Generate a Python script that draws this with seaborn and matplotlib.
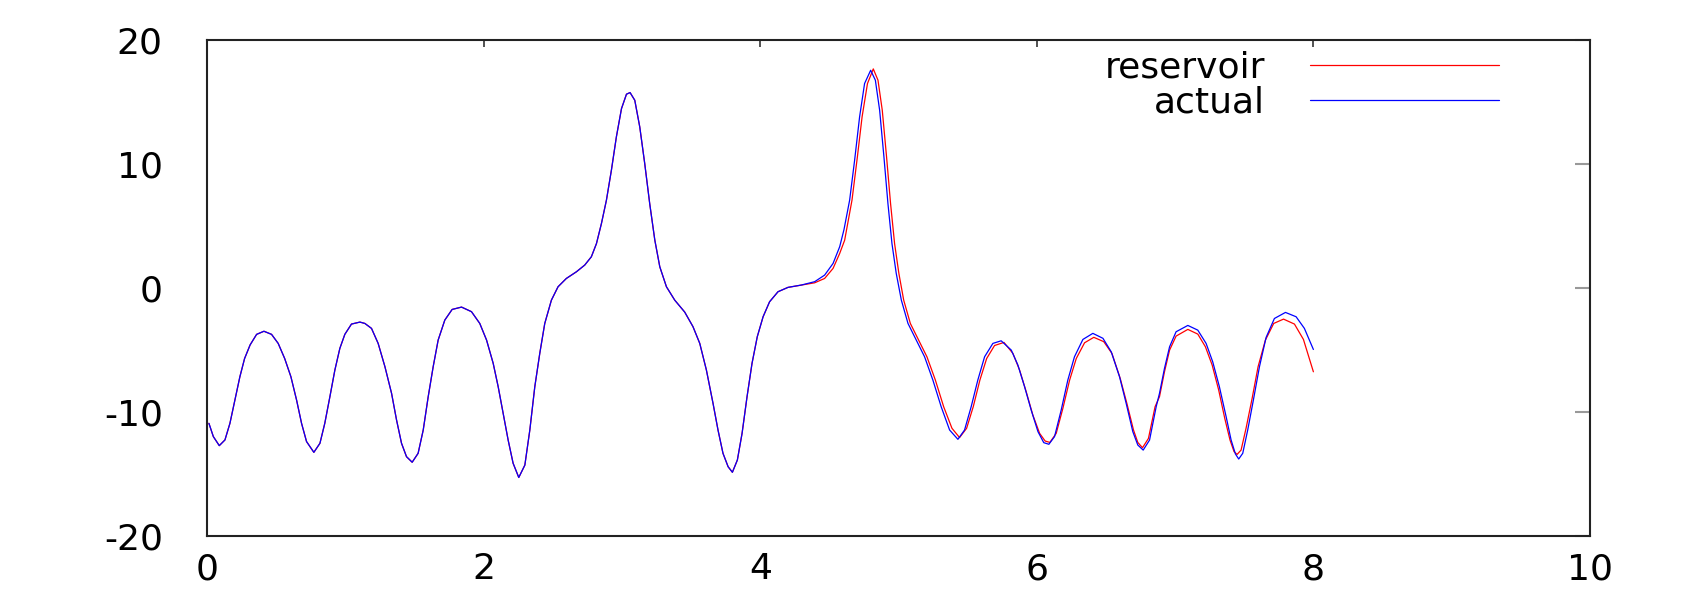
import matplotlib
matplotlib.use("Agg")
import matplotlib.pyplot as plt
import pandas as pd
import seaborn as sns

# values
t_actual = [0.012, 0.044, 0.087, 0.128, 0.164, 0.200, 0.236, 0.270, 0.310, 0.357, 0.410, 0.465, 0.513,
            0.560, 0.605, 0.646, 0.682, 0.718, 0.771, 0.815, 0.850, 0.887, 0.923, 0.959, 0.995, 1.043,
            1.104, 1.140, 1.188, 1.236, 1.285, 1.333, 1.369, 1.405, 1.441, 1.482, 1.525, 1.562, 1.598,
            1.634, 1.670, 1.718, 1.771, 1.839, 1.911, 1.971, 2.020, 2.068, 2.104, 2.140, 2.176, 2.212,
            2.253, 2.297, 2.333, 2.369, 2.405, 2.441, 2.489, 2.537, 2.597, 2.670, 2.730, 2.778, 2.815,
            2.851, 2.887, 2.923, 2.959, 2.996, 3.032, 3.058, 3.092, 3.128, 3.164, 3.200, 3.237, 3.273,
            3.321, 3.381, 3.453, 3.513, 3.562, 3.610, 3.658, 3.694, 3.730, 3.767, 3.798, 3.834, 3.868,
            3.904, 3.940, 3.978, 4.020, 4.067, 4.128, 4.200, 4.297, 4.393, 4.465, 4.526, 4.574, 4.605,
            4.646, 4.682, 4.718, 4.754, 4.798, 4.832, 4.863, 4.894, 4.923, 4.952, 4.983, 5.020, 5.068,
            5.128, 5.188, 5.248, 5.308, 5.369, 5.429, 5.477, 5.525, 5.573, 5.622, 5.682, 5.742, 5.815,
            5.863, 5.911, 5.959, 6.008, 6.050, 6.087, 6.128, 6.176, 6.224, 6.272, 6.333, 6.405, 6.478,
            6.538, 6.598, 6.646, 6.694, 6.730, 6.769, 6.815, 6.863, 6.887, 6.923, 6.960, 7.007, 7.092,
            7.164, 7.224, 7.272, 7.320, 7.369, 7.405, 7.436, 7.460, 7.489, 7.525, 7.566, 7.610, 7.658,
            7.718, 7.798, 7.875, 7.935, 8.000]
actual = [-10.93, -12.00, -12.73, -12.27, -10.93, -9.05, -7.17, -5.70, -4.60, -3.75, -3.50, -3.75, -4.48,
          -5.70, -7.17, -9.05, -10.93, -12.40, -13.27, -12.54, -10.93, -8.78, -6.63, -4.88, -3.75, -2.92,
          -2.76, -2.87, -3.27, -4.48, -6.36, -8.51, -10.66, -12.54, -13.62, -14.07, -13.35, -11.47, -8.78,
          -6.36, -4.21, -2.60, -1.74, -1.55, -1.92, -2.87, -4.21, -6.09, -7.97, -10.12, -12.27, -14.15,
          -15.30, -14.30, -11.47, -7.97, -5.28, -2.87, -0.99, 0.09, 0.76, 1.30, 1.84, 2.51, 3.58,
          5.20, 7.08, 9.50, 12.19, 14.47, 15.63, 15.76, 15.14, 12.99, 10.03, 6.80, 3.85, 1.70,
          0.09, -0.99, -1.95, -3.13, -4.48, -6.63, -9.32, -11.47, -13.35, -14.43, -14.88, -13.89, -11.74,
          -8.78, -6.09, -3.94, -2.33, -1.12, -0.31, 0.04, 0.23, 0.50, 1.03, 1.97, 3.32, 4.70,
          7.08, 10.30, 13.80, 16.49, 17.56, 16.76, 14.33, 10.57, 6.80, 3.58, 1.17, -0.99, -2.87,
          -4.21, -5.56, -7.44, -9.59, -11.47, -12.22, -11.47, -9.59, -7.44, -5.56, -4.48, -4.27, -5.02,
          -6.23, -7.97, -9.86, -11.60, -12.49, -12.62, -12.00, -9.86, -7.44, -5.56, -4.16, -3.67, -4.07,
          -5.16, -7.17, -9.32, -11.60, -12.68, -13.09, -12.28, -9.59, -8.51, -6.50, -4.75, -3.54, -3.03,
          -3.41, -4.48, -5.97, -7.97, -10.40, -12.28, -13.40, -13.81, -13.35, -11.47, -9.05, -6.36, -4.00,
          -2.47, -1.98, -2.33, -3.27, -4.97]

t_reservoir = [0.012, 0.044, 0.087, 0.128, 0.164, 0.200, 0.236, 0.270, 0.310, 0.357, 0.410, 0.465, 0.513,
               0.560, 0.605, 0.646, 0.682, 0.718, 0.771, 0.815, 0.850, 0.887, 0.923, 0.959, 0.995, 1.043,
               1.104, 1.140, 1.188, 1.236, 1.285, 1.333, 1.369, 1.405, 1.441, 1.482, 1.525, 1.562, 1.598,
               1.634, 1.670, 1.718, 1.771, 1.839, 1.911, 1.971, 2.020, 2.068, 2.104, 2.140, 2.176, 2.212,
               2.253, 2.297, 2.333, 2.369, 2.405, 2.441, 2.489, 2.537, 2.597, 2.670, 2.730, 2.778, 2.815,
               2.851, 2.887, 2.923, 2.959, 2.996, 3.032, 3.058, 3.092, 3.128, 3.164, 3.200, 3.237, 3.273,
               3.321, 3.381, 3.453, 3.513, 3.562, 3.610, 3.658, 3.694, 3.730, 3.767, 3.798, 3.834, 3.868,
               3.904, 3.940, 3.978, 4.020, 4.067, 4.128, 4.200, 4.297, 4.393, 4.465, 4.526, 4.574, 4.610,
               4.663, 4.702, 4.736, 4.775, 4.817, 4.851, 4.882, 4.913, 4.942, 4.971, 5.002, 5.037, 5.085,
               5.145, 5.205, 5.266, 5.326, 5.386, 5.441, 5.492, 5.540, 5.588, 5.637, 5.694, 5.762, 5.827,
               5.875, 5.923, 5.971, 6.020, 6.060, 6.094, 6.140, 6.188, 6.237, 6.285, 6.345, 6.412, 6.484,
               6.543, 6.603, 6.651, 6.699, 6.730, 6.764, 6.807, 6.855, 6.887, 6.923, 6.960, 7.007, 7.092,
               7.164, 7.219, 7.268, 7.315, 7.359, 7.397, 7.426, 7.448, 7.477, 7.513, 7.557, 7.600, 7.653,
               7.713, 7.784, 7.863, 7.928, 8.000]
reservoir = [-10.93, -12.00, -12.73, -12.27, -10.93, -9.05, -7.17, -5.70, -4.60, -3.75, -3.50, -3.75, -4.48,
             -5.70, -7.17, -9.05, -10.93, -12.40, -13.27, -12.54, -10.93, -8.78, -6.63, -4.88, -3.75, -2.92,
             -2.76, -2.87, -3.27, -4.48, -6.36, -8.51, -10.66, -12.54, -13.62, -14.07, -13.35, -11.47, -8.78,
             -6.36, -4.21, -2.60, -1.74, -1.55, -1.92, -2.87, -4.21, -6.09, -7.97, -10.12, -12.27, -14.15,
             -15.30, -14.30, -11.47, -7.97, -5.28, -2.87, -0.99, 0.09, 0.76, 1.30, 1.84, 2.51, 3.58,
             5.20, 7.08, 9.50, 12.19, 14.47, 15.63, 15.76, 15.14, 12.99, 10.03, 6.80, 3.85, 1.70,
             0.09, -0.99, -1.95, -3.13, -4.48, -6.63, -9.32, -11.47, -13.35, -14.43, -14.88, -13.89, -11.74,
             -8.78, -6.09, -3.94, -2.33, -1.12, -0.31, 0.04, 0.23, 0.41, 0.76, 1.57, 2.78, 3.85,
             7.08, 10.57, 13.80, 16.49, 17.67, 16.76, 14.33, 10.57, 6.80, 3.58, 1.17, -0.99, -2.87,
             -4.21, -5.56, -7.44, -9.59, -11.33, -12.08, -11.33, -9.59, -7.44, -5.70, -4.65, -4.40, -5.29,
             -6.63, -8.38, -10.26, -11.74, -12.36, -12.47, -11.74, -9.73, -7.44, -5.70, -4.43, -3.99, -4.34,
             -5.29, -7.31, -9.32, -11.47, -12.47, -12.90, -12.15, -9.59, -8.78, -6.77, -5.02, -3.89, -3.35,
             -3.73, -4.75, -6.23, -8.24, -10.53, -12.28, -13.21, -13.44, -13.09, -11.33, -8.91, -6.36, -4.21,
             -2.87, -2.52, -2.92, -4.16, -6.77]

x_ticks = [0, 2, 4, 6, 8, 10]
y_ticks = [-20, -10, 0, 10, 20]

sns.set_style("white")
plt.rcParams["font.family"] = ["DejaVu Sans"]
plt.rcParams["axes.unicode_minus"] = False
plt.rcParams["text.color"] = "black"
plt.rcParams["xtick.labelcolor"] = "black"
plt.rcParams["ytick.labelcolor"] = "black"

df_res = pd.DataFrame({"t": t_reservoir, "v": reservoir})
df_act = pd.DataFrame({"t": t_actual, "v": actual})

fig = plt.figure(figsize=(17.03, 5.94), dpi=100)
ax = fig.add_axes([0.1217, 0.0981, 0.8119, 0.8345])

sns.lineplot(data=df_res, x="t", y="v", ax=ax, color="#ff0000", lw=0.9,
             estimator=None, sort=False, label="reservoir")
sns.lineplot(data=df_act, x="t", y="v", ax=ax, color="#0000ff", lw=0.9,
             estimator=None, sort=False, label="actual")

ax.set_xlim(0, 10)
ax.set_ylim(-20, 20)
ax.set_xticks(x_ticks)
ax.set_yticks(y_ticks)
ax.set_xlabel("")
ax.set_ylabel("")

for sp in ax.spines.values():
    sp.set_linewidth(1.5)
    sp.set_color("#222222")

ax.tick_params(axis="x", direction="in", top=True, length=5, width=1.2,
               color="#333333", labelsize=26, pad=12, labelcolor="black")
ax.tick_params(axis="y", direction="in", right=True, length=11, width=1.5,
               color="#999999", labelsize=26, pad=32, labelcolor="black")

leg = ax.legend(loc="upper right", bbox_to_anchor=(0.95, 1.022), frameon=False,
                markerfirst=False, handlelength=5.24, handletextpad=1.25,
                labelspacing=0.03, borderpad=0.1, fontsize=26)
for line in leg.get_lines():
    line.set_linewidth(0.9)

fig.savefig("out.png", dpi=100)
